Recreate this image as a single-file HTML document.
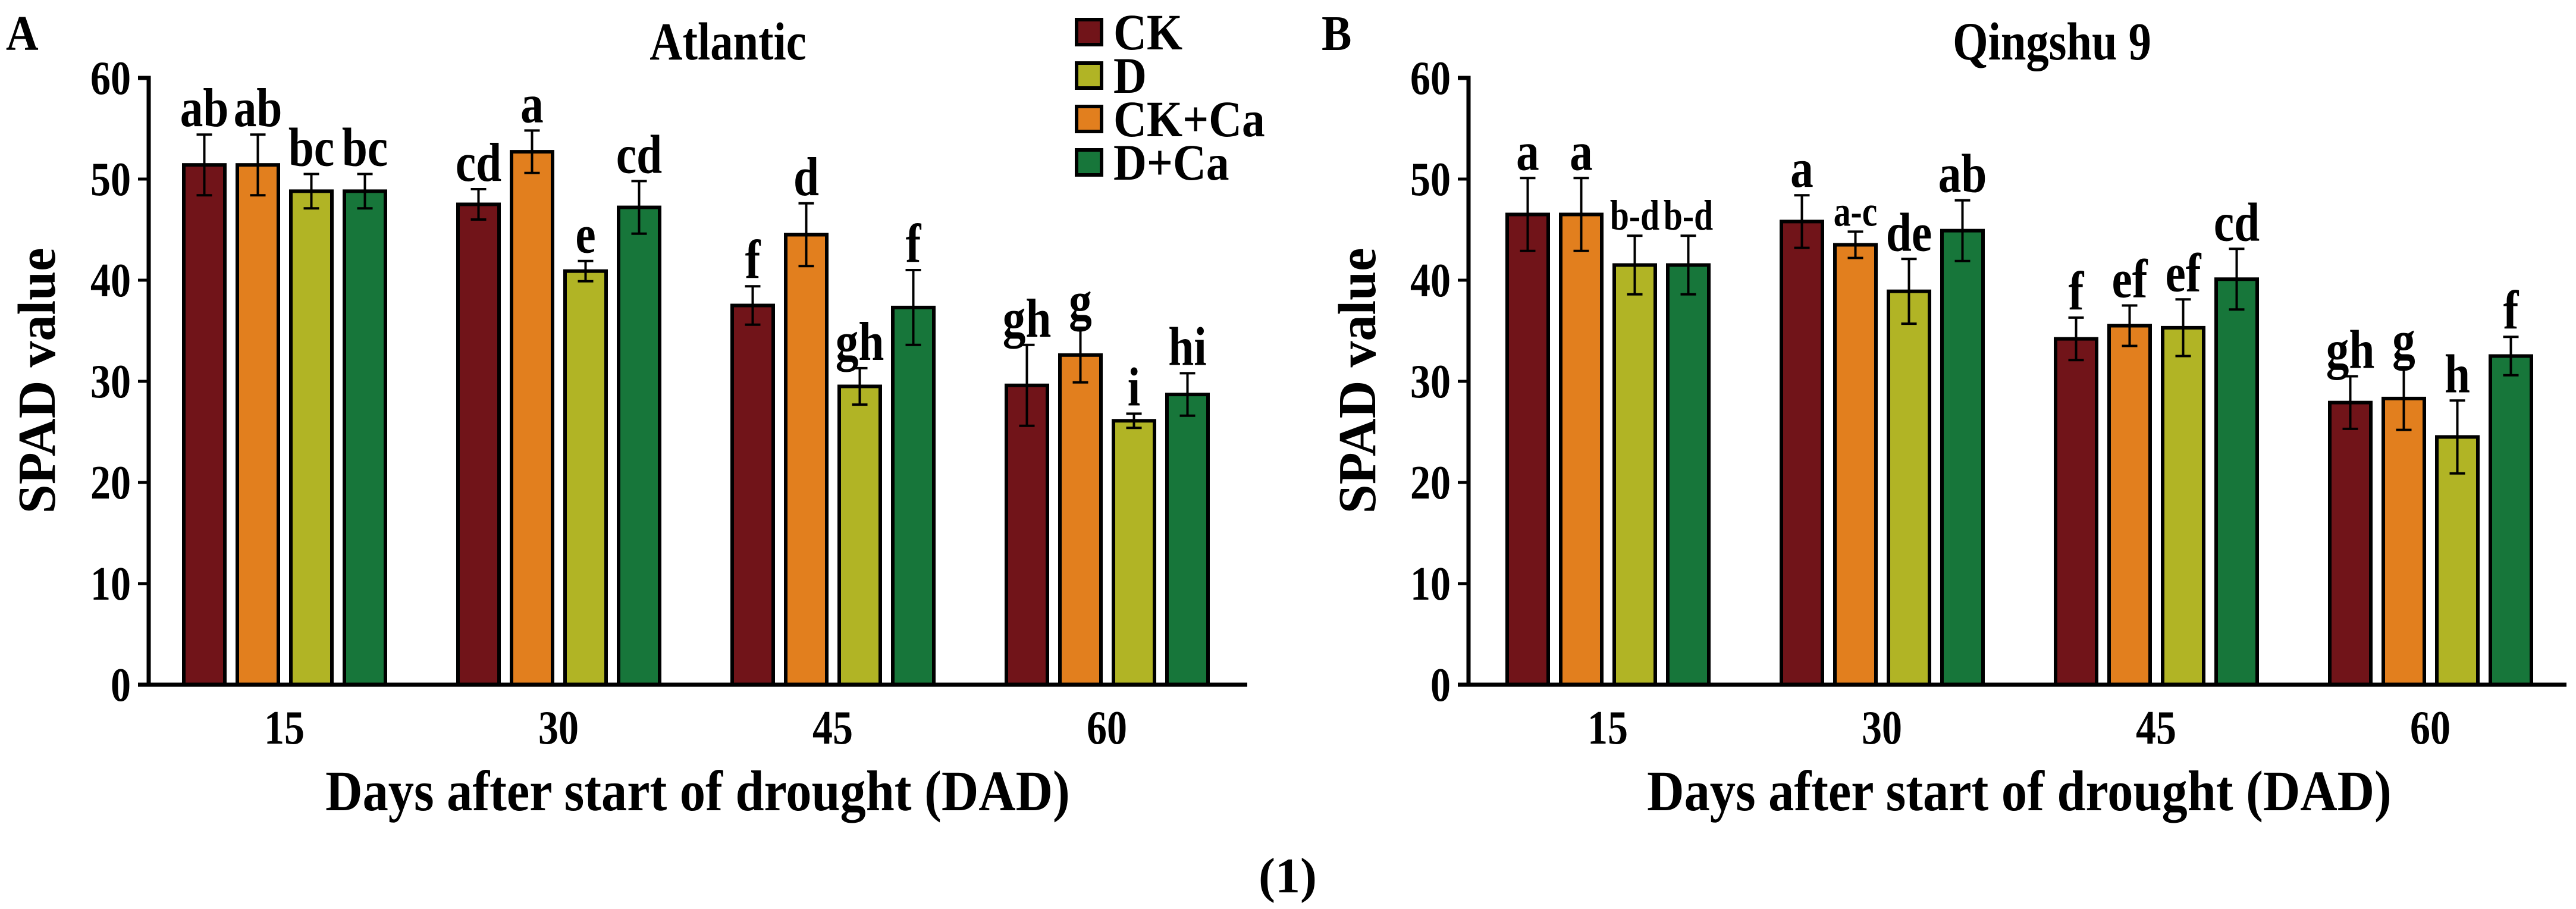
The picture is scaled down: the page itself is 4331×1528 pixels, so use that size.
<!DOCTYPE html>
<html><head><meta charset="utf-8"><style>
html,body{margin:0;padding:0;background:#fff;}
svg{display:block;}
text{font-family:"Liberation Serif",serif;font-weight:bold;fill:#000;}
</style></head><body>
<svg id="chart" width="4331" height="1528" viewBox="0 0 4331 1528" xmlns="http://www.w3.org/2000/svg"></svg>
<script>
const categories = ["15","30","45","60"];
const yTicks = [0,10,20,30,40,50,60];
// Panel A (Atlantic), bar order: CK, CK+Ca, D, D+Ca
const aCK = [51.4,47.5,37.5,29.6];
const aCKCa = [51.4,52.7,44.5,32.6];
const aD = [48.8,40.9,29.5,26.1];
const aDCa = [48.8,47.2,37.3,28.7];
const aErrCK = [3.0,1.5,1.9,4.0];
const aErrCKCa = [3.0,2.1,3.1,2.7];
const aErrD = [1.7,1.0,1.8,0.7];
const aErrDCa = [1.7,2.6,3.7,2.1];
const aLabCK = ["ab","cd","f","gh"];
const aLabCKCa = ["ab","a","d","g"];
const aLabD = ["bc","e","gh","i"];
const aLabDCa = ["bc","cd","f","hi"];
// Panel B (Qingshu 9)
const bCK = [46.5,45.8,34.2,27.9];
const bCKCa = [46.5,43.5,35.5,28.3];
const bD = [41.5,38.9,35.3,24.5];
const bDCa = [41.5,44.9,40.1,32.5];
const bErrCK = [3.6,2.6,2.1,2.6];
const bErrCKCa = [3.6,1.3,2.0,3.1];
const bErrD = [2.9,3.2,2.8,3.6];
const bErrDCa = [2.9,3.0,3.0,1.9];
const bLabCK = ["a","a","f","gh"];
const bLabCKCa = ["a","a-c","ef","g"];
const bLabD = ["b-d","de","ef","h"];
const bLabDCa = ["b-d","ab","cd","f"];
const legendLabels = ["CK","D","CK+Ca","D+Ca"];

const COL = {CK:"#711419",CKCa:"#e27f1e",D:"#b1b425",DCa:"#17763a"};
const NS = "http://www.w3.org/2000/svg";
const svg = document.getElementById("chart");
function mk(tag, attrs, parent){const e=document.createElementNS(NS,tag);for(const k in attrs)e.setAttribute(k,attrs[k]);(parent||svg).appendChild(e);return e;}
function txt(s,x,y,size,anchor,sx,parent,rot){
  const t=mk("text",{x:0,y:0,"font-size":size,"text-anchor":anchor||"middle",
    transform:"translate("+x+","+y+")"+(rot?" rotate("+rot+")":"")+" scale("+(sx||0.82)+",1)"},parent);
  t.textContent=s;return t;
}

const Y0=1151, PX_PER=17;
function yScale(v){return Y0 - v*PX_PER;}

function panel(p){
  const g=mk("g",{});
  
  
  const ax=p.axisX;
  function xScale(i){return p.firstCenter + i*461;}
  const series=[
    {k:"CK",v:p.CK,e:p.eCK,l:p.lCK},
    {k:"CKCa",v:p.CKCa,e:p.eCKCa,l:p.lCKCa},
    {k:"D",v:p.D,e:p.eD,l:p.lD},
    {k:"DCa",v:p.DCa,e:p.eDCa,l:p.lDCa}];
  categories.forEach((c,i)=>{
    const cx=xScale(i);
    series.forEach((s,j)=>{
      const x0=cx-172+j*90, w=75, top=yScale(s.v[i]);
      const r=mk("rect",{x:x0+3,y:top,width:w-6,height:Y0-top,fill:COL[s.k],stroke:"#000","stroke-width":6},g);
      
      
      const bx=x0+w/2, et=yScale(s.v[i]+s.e[i]), eb=yScale(s.v[i]-s.e[i]);
      const eg=mk("path",{d:"M"+bx+" "+et+"V"+eb+"M"+(bx-13)+" "+et+"H"+(bx+13)+"M"+(bx-13)+" "+eb+"H"+(bx+13),stroke:"#000","stroke-width":4,fill:"none"},g);
      
      
      const small=s.l[i].indexOf("-")>=0;
      const lt=txt(s.l[i],bx,et-(small?10:14),small?72:92,"middle",small?0.8:0.84,g);
      
      
    });
    const tl=txt(c,cx,1250,80,"middle",0.85,g);
    
    
  });
  const axis=mk("path",{d:"M"+(ax-18)+" 131H"+ax+"V"+Y0+"M"+(ax-18)+" "+Y0+"H"+p.axisEnd,stroke:"#000","stroke-width":7,fill:"none"},g);
  
  
  yTicks.forEach(v=>{
    const y=yScale(v);
    const tk=mk("line",{x1:ax-18,x2:ax,y1:y,y2:y,stroke:"#000","stroke-width":5},g);
    
    
    const t=txt(String(v),ax-30,y+27,80,"end",0.85,g);
    
    
  });
  const yt=txt("SPAD value",p.yTitleX,640,90,"middle",0.98,g,-90);
  
  
  const xt=txt("Days after start of drought (DAD)",p.xTitleX,1362,96,"middle",0.9,g);
  
  
  const tt=txt(p.title,p.titleX,100,90,"middle",0.85,g);
  
  
  const pl=txt(p.letter,p.letterX,84,84,"start",0.9,g);
  
  
}

panel({name:"panel-a-atlantic",axisX:250,axisEnd:2097,firstCenter:478,
  CK:aCK,CKCa:aCKCa,D:aD,DCa:aDCa,eCK:aErrCK,eCKCa:aErrCKCa,eD:aErrD,eDCa:aErrDCa,
  lCK:aLabCK,lCKCa:aLabCKCa,lD:aLabD,lDCa:aLabDCa,
  yTitleX:92,xTitleX:1173,title:"Atlantic",titleX:1224,letter:"A",letterX:10});
panel({name:"panel-b-qingshu9",axisX:2469,axisEnd:4315,firstCenter:2703,
  CK:bCK,CKCa:bCKCa,D:bD,DCa:bDCa,eCK:bErrCK,eCKCa:bErrCKCa,eD:bErrD,eDCa:bErrDCa,
  lCK:bLabCK,lCKCa:bLabCKCa,lD:bLabD,lDCa:bLabDCa,
  yTitleX:2312,xTitleX:3395,title:"Qingshu 9",titleX:3450,letter:"B",letterX:2222});

const legCols=[COL.CK,COL.D,COL.CKCa,COL.DCa];
const lg=mk("g",{});


legendLabels.forEach((l,i)=>{
  const y=30+i*73;
  const r=mk("rect",{x:1810,y:y+3,width:42,height:42,fill:legCols[i],stroke:"#000","stroke-width":6},lg);
  
  
  const t=txt(l,1872,y+53,86,"start",0.9,lg);
  
  
});
const fn=txt("(1)",2165,1500,84,"middle",1,null);
fn.setAttribute('font-weight','normal');


</script>
</body></html>
